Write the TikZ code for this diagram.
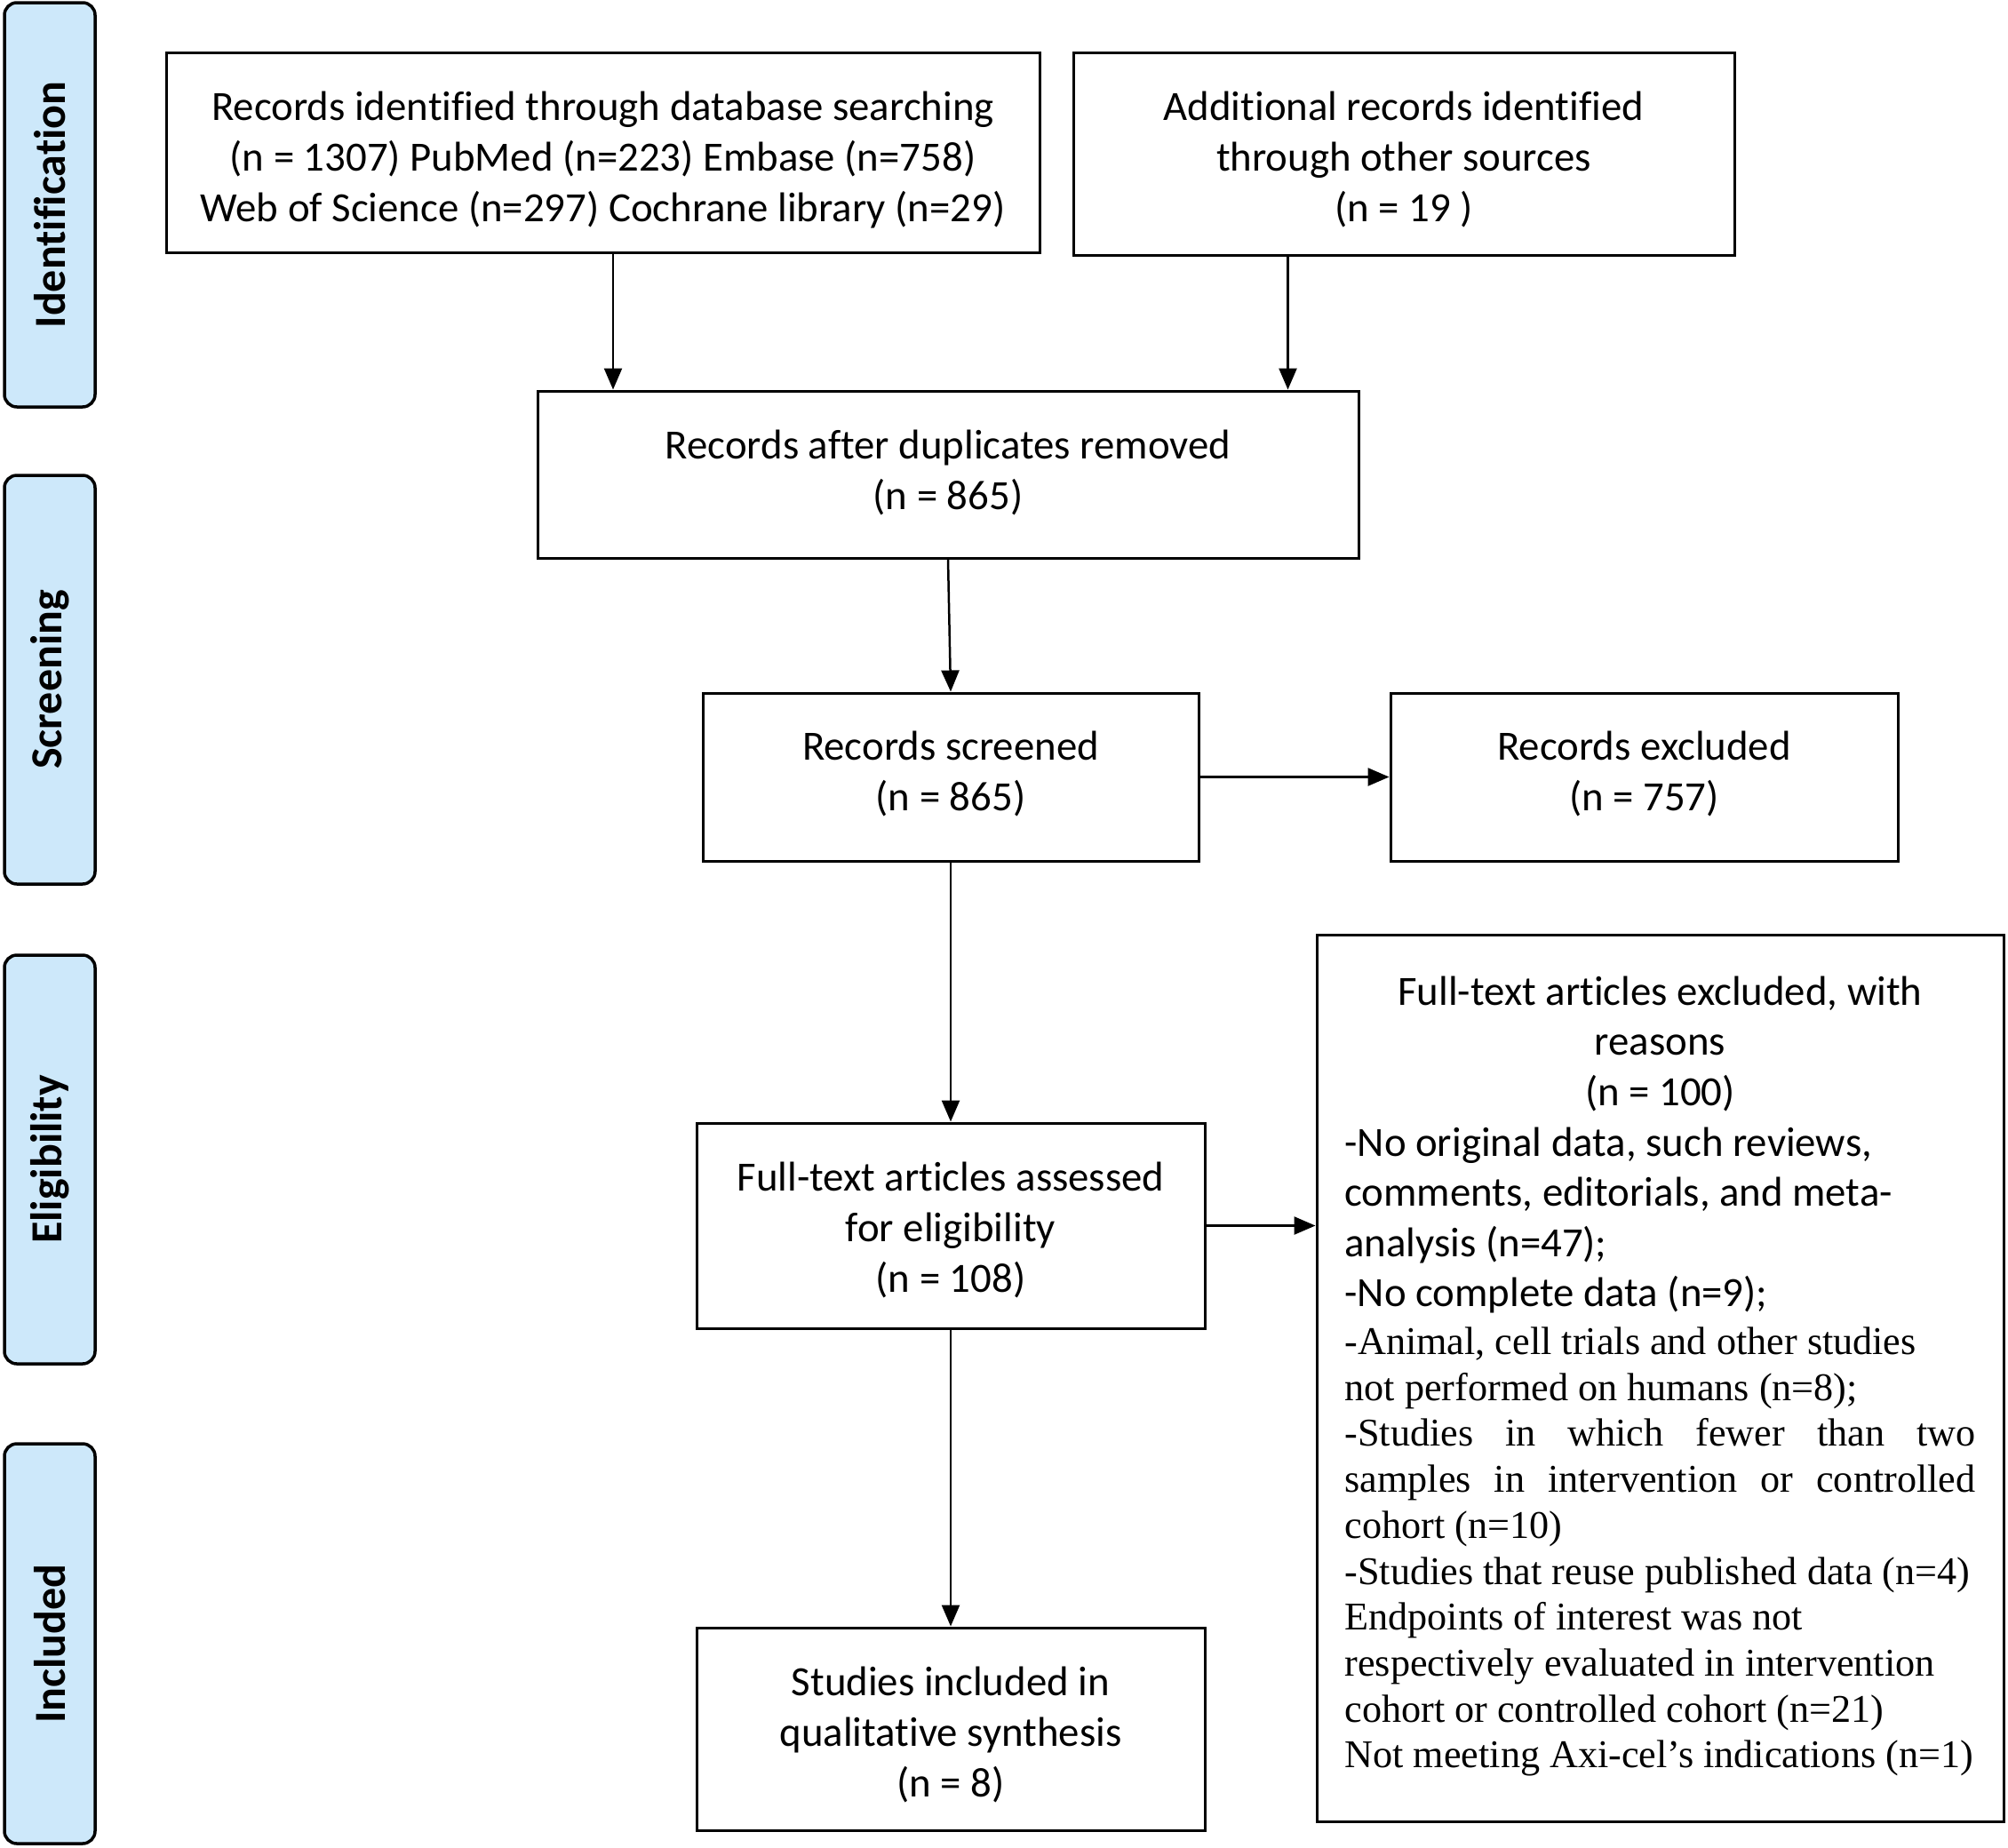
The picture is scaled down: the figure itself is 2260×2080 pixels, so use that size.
\documentclass[tikz,border=0pt]{standalone}
\usepackage{fontspec}
\setmainfont{Carlito}[Ligatures=NoCommon]
\newfontfamily\tnr{Liberation Serif}
\usetikzlibrary{arrows.meta}
\definecolor{sideblue}{RGB}{205,232,250}
\newcommand\boxtext[2]{\raisebox{#1}[\height][\depth]{\begin{tabular}{@{}c@{}}#2\end{tabular}}}
\newcommand\Lline[1]{\par\noindent\hbox to\linewidth{#1\hfil}\par}
\newcommand\Cline[1]{\par\noindent\hbox to\linewidth{\hfil#1\hfil}\par}
\newcommand\Jline[1]{\par\noindent\hbox to\linewidth{#1}\par}
\begin{document}
\begin{tikzpicture}[x=1pt,y=-1pt,
  box/.style={draw=black,line width=3pt,rectangle,align=center,inner sep=0pt,
    font=\fontsize{46.8}{57}\selectfont},
  sidebox/.style={draw=black,line width=3.5pt,fill=sideblue,rounded corners=14pt,
    minimum width=102pt,inner sep=0pt},
  sidetext/.style={rotate=90,font=\fontsize{50}{60}\selectfont\bfseries},
  arr/.style={line width=2.5pt,-{Triangle[length=24pt,width=20pt]}}]
\useasboundingbox (0,0) rectangle (2260,2080);

% side phase labels
\node[sidebox,minimum height=455pt] (s1) at (56,230.5) {};
\node[sidetext] (t1) at (s1) {Identification};
\node[sidebox,minimum height=460pt] (s2) at (56,765) {};
\node[sidetext] (t2) at (s2) {Screening};
\node[sidebox,minimum height=460pt] (s3) at (56,1305) {};
\node[sidetext] (t3) at (s3) {Eligibility};
\node[sidebox,minimum height=450pt] (s4) at (56,1850) {};
\node[sidetext] (t4) at (s4) {Included};

% main boxes
\node[box,minimum width=983pt,minimum height=225pt] (A) at (678.5,171.5)
  {\boxtext{-10pt}{Records identified through database searching\\(n = 1307) PubMed (n=223) Embase (n=758)\\Web of Science (n=297) Cochrane library (n=29)}};
\node[box,minimum width=744pt,minimum height=228pt] (B) at (1580,173)
  {\boxtext{-8.5pt}{Additional records identified\\through other sources\\(n = 19 )}};
\node[box,minimum width=924pt,minimum height=188pt] (C) at (1067,534)
  {\boxtext{0pt}{Records after duplicates removed\\(n = 865)}};
\node[box,minimum width=558pt,minimum height=189pt] (D) at (1070,874.5)
  {\boxtext{2pt}{Records screened\\(n = 865)}};
\node[box,minimum width=571pt,minimum height=189pt] (E) at (1850.5,874.5)
  {\boxtext{2pt}{Records excluded\\(n = 757)}};
\node[box,minimum width=572pt,minimum height=231pt] (F) at (1070,1379.5)
  {\boxtext{-6.5pt}{Full-text articles assessed\\for eligibility\\(n = 108)}};
\node[box,minimum width=572pt,minimum height=228pt] (H) at (1070,1946)
  {\boxtext{-8.5pt}{Studies included in\\qualitative synthesis\\(n = 8)}};
\node[draw=black,line width=3pt,rectangle,inner ysep=0pt,inner xsep=31.5pt,
  text width=710pt,align=left,minimum height=998pt,
  font=\fontsize{46.8}{56.6}\selectfont] (G) at (1868.5,1551)
  {\spaceskip=0pt \xspaceskip=0pt \parskip=0pt
  \Cline{Full-text articles excluded, with}
  \Cline{reasons}
  \Cline{(n = 100)}
  \Lline{-No original data, such reviews,}
  \Lline{comments, editorials, and meta-}
  \Lline{analysis (n=47);}
  \Lline{-No complete data (n=9);}
  \tnr\fontsize{44.2}{51.7}\selectfont
  \vskip 2pt
  \Lline{-Animal, cell trials and other studies}
  \Lline{not performed on humans (n=8);}
  \Jline{-Studies in which fewer than two}
  \Jline{samples in intervention or controlled}
  \Lline{cohort (n=10)}
  \Lline{-Studies that reuse published data (n=4)}
  \Lline{Endpoints of interest was not}
  \Lline{respectively evaluated in intervention}
  \Lline{cohort or controlled cohort (n=21)}
  \Lline{Not meeting Axi-cel’s indications (n=1)}
  \kern 28pt\hrule height 0pt width 0pt};

% connectors
\draw[arr] ([xshift=11.5pt]A.south) -- ([xshift=11.5pt]A.south |- C.north);
\draw[arr] ([xshift=243pt]B.south west) -- ([xshift=243pt]B.south west |- C.north);
\draw[arr] (C.south) -- (D.north);
\draw[arr] (D.east) -- (E.west);
\draw[arr] (D.south) -- (F.north);
\draw[arr] (F.east) -- (F.east -| G.west);
\draw[arr] (F.south) -- (H.north);
\end{tikzpicture}
\end{document}
